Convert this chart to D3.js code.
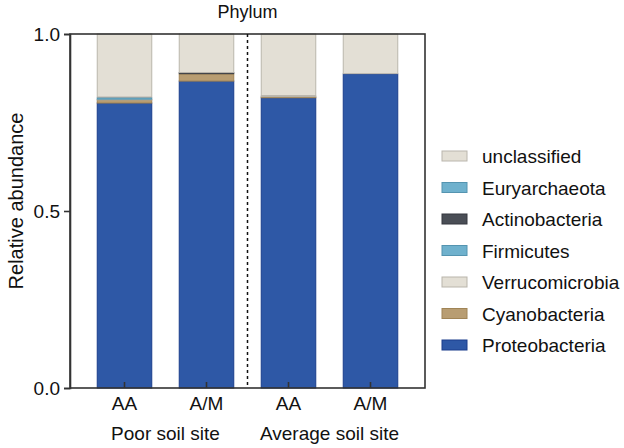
<!DOCTYPE html>
<html><head><meta charset="utf-8">
<script src="https://cdn.jsdelivr.net/npm/d3@7"></script>
<style>body{margin:0;background:#fff}text{font-family:"Liberation Sans",Arial,sans-serif}</style>
</head><body><svg id="c" width="624" height="448"></svg>
<script>
const samples = ["P-AA","P-AM","A-AA","A-AM"];
const sampleLabels = ["AA","A/M","AA","A/M"];
const groups = ["Poor soil site","Average soil site"];
const phyla = ["Proteobacteria","Cyanobacteria","Verrucomicrobia","Firmicutes","Actinobacteria","Euryarchaeota","unclassified"];
const Proteobacteria = [0.805,0.867,0.820,0.887];
const Cyanobacteria = [0.009,0.020,0.003,0.000];
const Verrucomicrobia = [0.002,0.001,0.002,0.001];
const Firmicutes = [0.004,0.000,0.000,0.000];
const Actinobacteria = [0.001,0.003,0.001,0.000];
const Euryarchaeota = [0.001,0.000,0.000,0.000];
const unclassified = [0.178,0.109,0.174,0.112];
const yTicks = [0,0.5,1];
const fills = {Proteobacteria:"#2e58a6",Cyanobacteria:"#b89d72",Verrucomicrobia:"#e3dfd5",Firmicutes:"#6fb1cd",Actinobacteria:"#4a4e56",Euryarchaeota:"#6fb1cd",unclassified:"#e3dfd5"};
const strokes = {Proteobacteria:"#1a3d8c",Cyanobacteria:"#a08456",Verrucomicrobia:"#b9b5ab",Firmicutes:"#5494b0",Actinobacteria:"#34373e",Euryarchaeota:"#5494b0",unclassified:"#bab6ad"};
const seriesVals = {Proteobacteria,Cyanobacteria,Verrucomicrobia,Firmicutes,Actinobacteria,Euryarchaeota,unclassified};

const rows = samples.map((s,i)=>{const o={sample:s}; phyla.forEach(p=>o[p]=seriesVals[p][i]); return o;});
const stack = d3.stack().keys(phyla)(rows);

const svg = d3.select("#c");
const FF = "Liberation Sans, Arial, sans-serif";
const L=70,R=425,T=34,B=388;
const x = d3.scaleBand().domain(samples).range([L+13.5,R-13.5]).padding(0);
const bw = x.bandwidth()*0.665;
const y = d3.scaleLinear().domain([0,1]).range([B,T]);

// bars
stack.forEach(layer=>{
  svg.append("g").selectAll("rect").data(layer).join("rect")
    .attr("x",d=>x(d.data.sample)+(x.bandwidth()-bw)/2)
    .attr("width",bw)
    .attr("y",d=>y(d[1]))
    .attr("height",d=>Math.max(0,y(d[0])-y(d[1])))
    .attr("fill",fills[layer.key])
    .attr("stroke",strokes[layer.key])
    .attr("stroke-width",d=>(d[1]-d[0])>0.0015?1:0);
});

// frame
svg.append("rect").attr("x",L).attr("y",T).attr("width",R-L).attr("height",B-T)
  .attr("fill","none").attr("stroke","#333").attr("stroke-width",1.6);

// dashed separator
const sep = (x(samples[1])+x.bandwidth()+x(samples[2]))/2;
svg.append("line").attr("x1",sep).attr("x2",sep).attr("y1",T).attr("y2",B)
  .attr("stroke","#111").attr("stroke-width",1.5).attr("stroke-dasharray","3,3");

// y axis
const ya = svg.append("g").attr("transform",`translate(${L},0)`)
  .call(d3.axisLeft(y).tickValues(yTicks).tickFormat(d3.format(".1f")).tickSize(6).tickPadding(4));
ya.select(".domain").attr("stroke","#333").attr("stroke-width",1.6);
ya.selectAll(".tick line").attr("stroke","#333").attr("stroke-width",1.6);
ya.selectAll(".tick text").attr("font-size",19).attr("fill","#111").attr("font-family",FF);

// x axis
const xa = svg.append("g").attr("transform",`translate(0,${B})`)
  .call(d3.axisBottom(x).tickSize(-6).tickPadding(9).tickFormat((d,i)=>sampleLabels[i]));
xa.select(".domain").remove();
xa.selectAll(".tick line").attr("stroke","#333").attr("stroke-width",1.6);
xa.selectAll(".tick text").attr("font-size",19).attr("fill","#111").attr("font-family",FF);

// group labels
groups.forEach((g,i)=>{
  const cx = (x(samples[2*i])+x(samples[2*i+1])+x.bandwidth())/2;
  svg.append("text").attr("x",cx).attr("y",440).attr("text-anchor","middle")
    .attr("font-size",19).attr("fill","#111").text(g);
});

// title
svg.append("text").attr("x",(L+R)/2).attr("y",18).attr("text-anchor","middle")
  .attr("font-size",18).attr("fill","#111").text("Phylum");

// y label
svg.append("text").attr("transform",`translate(23,201) rotate(-90)`)
  .attr("text-anchor","middle").attr("font-size",20).attr("fill","#111").text("Relative abundance");

// legend
const legendOrder = phyla.slice().reverse();
const lg = svg.append("g");
legendOrder.forEach((p,i)=>{
  const cy = 156 + i*31.5;
  lg.append("rect").attr("x",442).attr("y",cy-5).attr("width",25).attr("height",10)
    .attr("fill",fills[p]).attr("stroke",strokes[p]).attr("stroke-width",1);
  lg.append("text").attr("x",482).attr("y",cy+7).attr("font-size",19).attr("fill","#111").text(p);
});
</script></body></html>
